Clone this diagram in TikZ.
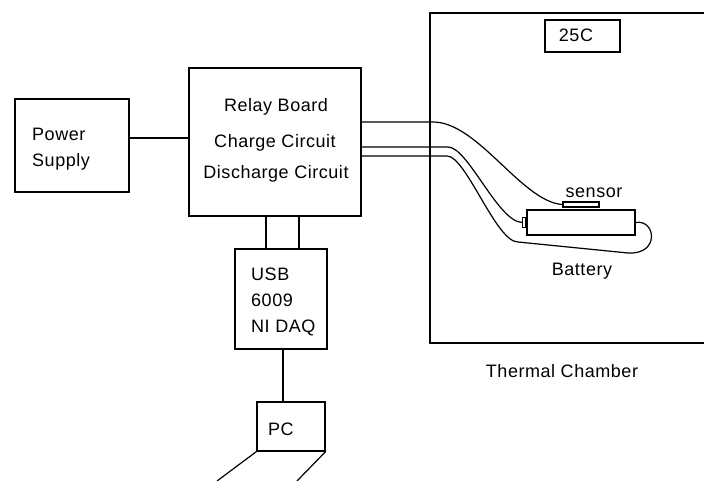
\documentclass[tikz,border=0pt]{standalone}
\usepackage{fontspec}
\setmainfont{Liberation Sans}[LetterSpace=3]
\usetikzlibrary{positioning}

\begin{document}
\begin{tikzpicture}[x=1pt, y=-1pt,
  box/.style={draw, line width=1.2pt, inner sep=0pt},
  lbl/.style={font=\fontsize{18}{21}\selectfont, inner sep=0pt, anchor=base},
  wire/.style={line width=1.2pt}
]
  \useasboundingbox (0,0) rectangle (704,481);

  % blocks
  \node[box, minimum width=114, minimum height=93]  (psu)     at (72,145.5)  {};
  \node[box, minimum width=172, minimum height=148] (relay)   at (275,142)   {};
  \node[box, minimum width=92,  minimum height=100] (daq)     at (281,299)   {};
  \node[box, minimum width=68,  minimum height=49]  (pc)      at (291,426.5) {};
  \node[box, minimum width=280, minimum height=330] (chamber) at (570,178)   {};
  \node[box, minimum width=75,  minimum height=32]  (temp)    at (582.5,36)  {};
  \node[box, minimum width=108, minimum height=25]  (batt)    at (581,222.5) {};
  \node[box, minimum width=36,  minimum height=5]   (sensor)  at (581,204.5) {};
  \node[box, minimum width=3,   minimum height=10, anchor=east] (term) at (batt.west) {};

  % labels
  \node[lbl, anchor=base west] (psutxt) at (32,141)  {Power};
  \node[lbl, anchor=base west] (psutxtb) at (32,167) {Supply};
  \node[lbl] (rbtxt) at (276,112) {Relay Board};
  \node[lbl] (cctxt) at (275,148) {Charge Circuit};
  \node[lbl] (dctxt) at (276,179) {Discharge Circuit};
  \node[lbl, anchor=base west] (daqa) at (251,280) {USB};
  \node[lbl, anchor=base west] (daqb) at (251,306) {6009};
  \node[lbl, anchor=base west] (daqc) at (251,332) {NI DAQ};
  \node[lbl, anchor=base west] (pctxt) at (268,435) {PC};
  \node[lbl] (temptxt) at (576,42)  {25C};
  \node[lbl] (senstxt) at (594,198) {sensor};
  \node[lbl] (batttxt) at (582,275) {Battery};
  \node[lbl] (chtxt)   at (562,377) {Thermal Chamber};

  % wiring
  \coordinate (lega) at (217,481);
  \coordinate (legb) at (297,481);
  \draw[wire] (psu.east |- 0,138) -- (relay.west |- 0,138);
  \draw[wire] (relay.south -| 266,0) -- (daq.north -| 266,0);
  \draw[wire] (relay.south -| 299,0) -- (daq.north -| 299,0);
  \draw[wire] (daq.south -| 283,0) -- (pc.north -| 283,0);
  \draw[wire] (pc.south west) -- (lega);
  \draw[wire] (pc.south east) -- (legb);

  \draw[wire] (relay.east |- 0,122) -- (433,122)
    .. controls (478,122) and (522,202) .. (sensor.west);
  \draw[wire] (relay.east |- 0,147) -- (448,147)
    .. controls (468,147) and (498,222) .. (term.west);
  \draw[wire] (relay.east |- 0,156) -- (447,156)
    .. controls (466,156) and (496,242) .. (518,242)
    -- (628,253) .. controls (660,255) and (656,219) .. (batt.east);
\end{tikzpicture}
\end{document}
